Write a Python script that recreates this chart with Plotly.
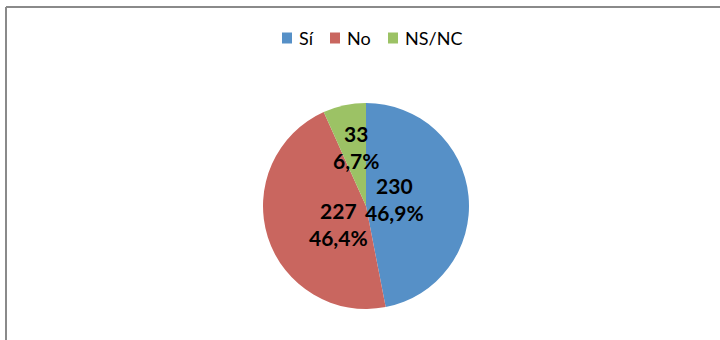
import math
import plotly.graph_objects as go

categories = ["Sí", "No", "NS/NC"]
values = [230, 227, 33]
percent_labels = ["46,9%", "46,4%", "6,7%"]
colors = ["#5690C7", "#C9665F", "#9CC265"]
label_radius = [0.29, 0.32, 0.58]      # fraction of pie radius for data labels
label_angle_shift = [-8.5, -15.0, 2.5]  # degrees from slice mid-angle
legend_left = [282, 330, 388]          # px, left edge of each legend swatch

W, H = 720, 340
cx, cy, r = 366, 206, 103

fig = go.Figure(go.Pie(
    labels=categories,
    values=values,
    marker=dict(colors=colors, line=dict(width=0)),
    sort=False,
    direction="clockwise",
    rotation=0,
    textinfo="none",
    showlegend=False,
    domain=dict(x=[(cx - r) / W, (cx + r) / W], y=[1 - (cy + r) / H, 1 - (cy - r) / H]),
    hoverinfo="skip",
))

total = sum(values)
annotations = []
shapes = []
start = 0.0
for v, pl, f, da in zip(values, percent_labels, label_radius, label_angle_shift):
    mid = start + v / total * 360 / 2
    start += v / total * 360
    a = math.radians(mid + da)
    px = cx + f * r * math.sin(a)
    py = cy - f * r * math.cos(a)
    annotations.append(dict(
        x=px / W, y=1 - py / H, xref="paper", yref="paper",
        text=f"{v}<br>{pl}", showarrow=False,
        font=dict(family="Lato", size=21, color="black", weight="bold"),
        xanchor="center", yanchor="middle",
    ))

# legend (swatch + label per category)
ly = 38
for cat, col, lx in zip(categories, colors, legend_left):
    shapes.append(dict(
        type="rect", xref="paper", yref="paper",
        x0=lx / W, x1=(lx + 10) / W, y0=1 - (ly + 5.5) / H, y1=1 - (ly - 5.5) / H,
        fillcolor=col, line=dict(width=0),
    ))
    annotations.append(dict(
        x=(lx + 15) / W, y=1 - ly / H, xref="paper", yref="paper",
        text=cat, showarrow=False, xanchor="left", yanchor="middle",
        font=dict(family="Lato", size=18, color="black"),
    ))

shapes += [
    dict(type="line", xref="paper", yref="paper", x0=6 / W, x1=1.0, y0=1 - 7 / H, y1=1 - 7 / H,
         line=dict(color="#8a8a8a", width=2)),
    dict(type="line", xref="paper", yref="paper", x0=6 / W, x1=6 / W, y0=0, y1=1 - 7 / H,
         line=dict(color="#8a8a8a", width=2)),
]

fig.update_layout(
    width=W, height=H,
    margin=dict(l=0, r=0, t=0, b=0),
    paper_bgcolor="white",
    showlegend=False,
    annotations=annotations,
    shapes=shapes,
)

fig.write_html("out.html")
